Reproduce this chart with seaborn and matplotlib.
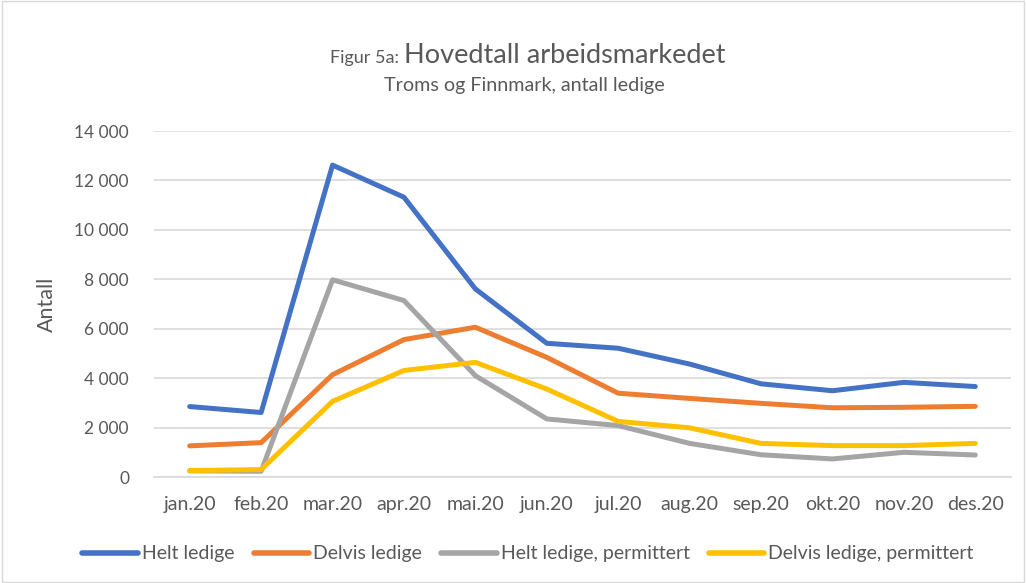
import pandas as pd
import seaborn as sns
import matplotlib.pyplot as plt
from matplotlib.patches import Rectangle
from matplotlib.ticker import FuncFormatter, FixedLocator

months = ["jan.20", "feb.20", "mar.20", "apr.20", "mai.20", "jun.20",
          "jul.20", "aug.20", "sep.20", "okt.20", "nov.20", "des.20"]
helt_ledige = [2850, 2610, 12620, 11320, 7610, 5410, 5210, 4570, 3770, 3490, 3830, 3660]
delvis_ledige = [1260, 1390, 4140, 5560, 6060, 4840, 3390, 3180, 2980, 2800, 2820, 2860]
helt_permittert = [250, 230, 7980, 7140, 4100, 2350, 2080, 1360, 900, 730, 1000, 890]
delvis_permittert = [260, 300, 3060, 4310, 4640, 3560, 2250, 1990, 1360, 1270, 1270, 1360]
series_names = ["Helt ledige", "Delvis ledige", "Helt ledige, permittert",
                "Delvis ledige, permittert"]
colors = ["#4472C4", "#ED7D31", "#A5A5A5", "#FFC000"]

'''long table for seaborn'''
rows = []
for name, vals in zip(series_names, [helt_ledige, delvis_ledige,
                                     helt_permittert, delvis_permittert]):
    for m, v in zip(months, vals):
        rows.append({"month": m, "antall": v, "serie": name})
df = pd.DataFrame(rows)

sns.set_theme(style="white")
plt.rcParams['font.family'] = ['Lato', 'DejaVu Sans']
txt = "#595959"

fig = plt.figure(figsize=(10.26, 5.83), dpi=100)
ax = fig.add_axes([154 / 1026, 1 - 477 / 583, (1011 - 154) / 1026, (477 - 131) / 583])

sns.lineplot(data=df, x="month", y="antall", hue="serie", palette=colors,
             hue_order=series_names, sort=False, linewidth=3.6, ax=ax,
             solid_capstyle="round")

ax.set_xlim(-0.5, 11.5)
ax.set_ylim(0, 14000)
ax.set_yticks(range(0, 14001, 2000))
ax.yaxis.set_major_formatter(FuncFormatter(lambda v, p: f"{int(v):,}".replace(",", " ")))
ax.grid(axis="y", color="#D9D9D9", linewidth=1.2)
ax.set_axisbelow(True)
ax.xaxis.set_minor_locator(FixedLocator([i - 0.5 for i in range(13)]))
ax.tick_params(axis="x", which="major", length=0, pad=14, labelsize=14, labelcolor=txt)
ax.tick_params(axis="x", which="minor", length=6, color="#D9D9D9", width=1.2)
ax.tick_params(axis="y", length=0, pad=18, labelsize=12.5, labelcolor=txt)
for s in ["top", "right", "left"]:
    ax.spines[s].set_visible(False)
ax.spines["bottom"].set_color("#D9D9D9")
ax.spines["bottom"].set_linewidth(1.2)
ax.set_xlabel("")
ax.set_ylabel("Antall", fontsize=15.5, color=txt)
ax.yaxis.set_label_coords(-0.113, 0.5)

# title in two sizes
fig.text(404 / 1026, 1 - 63 / 583, "Figur 5a: ", ha="right", va="baseline",
         fontsize=13, color=txt)
fig.text(404 / 1026, 1 - 63 / 583, "Hovedtall arbeidsmarkedet", ha="left",
         va="baseline", fontsize=19.5, color=txt)
fig.text(524 / 1026, 1 - 86 / 583, "Troms og Finnmark, antall ledige",
         ha="center", va="center", fontsize=14.2, color=txt)

leg = ax.legend(loc="center", bbox_to_anchor=(528 / 1026, 1 - 554 / 583),
                bbox_transform=fig.transFigure, ncol=4, frameon=False,
                fontsize=14, labelcolor=txt, handlelength=2.85, handletextpad=0.2,
                columnspacing=1.0)
for line in leg.get_lines():
    line.set_linewidth(4)
    line.set_solid_capstyle("round")

fig.patches.append(Rectangle((0.002, 0.002), 0.996, 0.996, transform=fig.transFigure,
                             fill=False, edgecolor="#D9D9D9", linewidth=1))

fig.savefig("out.png", dpi=100)
